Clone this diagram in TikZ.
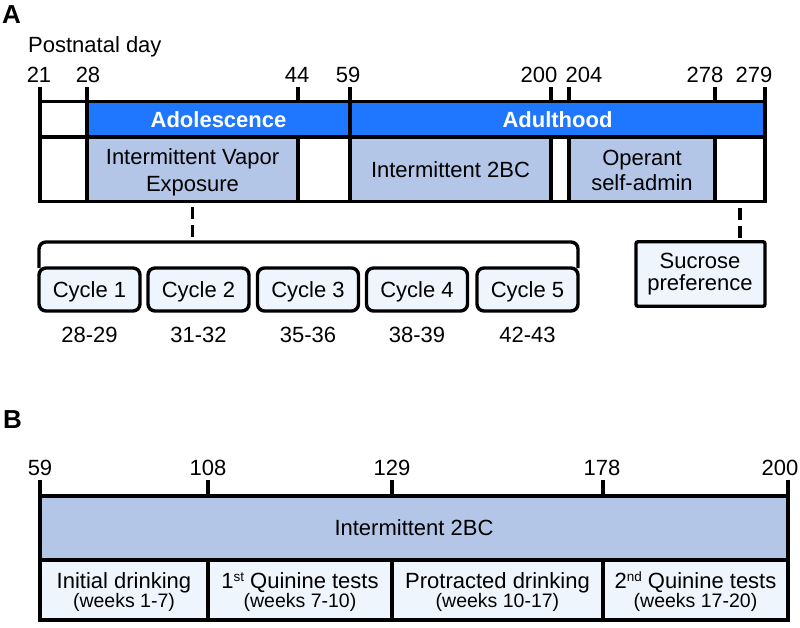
\documentclass[tikz,border=0pt]{standalone}
\usepackage{fontspec}
\setmainfont{Liberation Sans}
\newcommand\mysup[1]{\raisebox{7pt}{\fontsize{13.5}{13.5}\selectfont #1}}
\definecolor{barblue}{HTML}{1F77FF}
\definecolor{steel}{HTML}{B4C6E7}
\definecolor{pale}{HTML}{EEF5FC}
\begin{document}
\begin{tikzpicture}[x=1pt,y=-1pt,
  cell/.style={draw, line width=3.4pt, fill=white, inner sep=0pt, outer sep=0pt,
    font=\fontsize{22}{26}\selectfont, text height=15.8pt, text depth=0pt},
  tickline/.style={line width=3.4pt},
  num/.style={font=\fontsize{22}{26}\selectfont, anchor=base, inner sep=0pt},
  txt/.style={font=\fontsize{22}{26}\selectfont, anchor=base, inner sep=0pt},
  wk/.style={font=\fontsize{19.5}{22}\selectfont, anchor=base, inner sep=0pt},
  hdr/.style={cell, fill=barblue, text=white, font=\bfseries\fontsize{22}{26}\selectfont},
  panel/.style={font=\bfseries\fontsize{26}{30}\selectfont, anchor=base west, inner sep=0pt},
  cyc/.style={draw, line width=3.4pt, rounded corners=7pt, fill=pale, inner sep=0pt, outer sep=0pt,
    minimum width=101pt, minimum height=43pt, font=\fontsize{22}{26}\selectfont,
    text height=15.8pt, text depth=0pt},
  dashline/.style={line width=3.4pt, dash pattern=on 12pt off 6pt},
  bracketline/.style={line width=3.4pt, rounded corners=7pt}
]
\useasboundingbox (0,0) rectangle (800,627);

% ---------- Panel A ----------
\node[panel] (labA) at (2,23) {A};
\node[txt, anchor=base west] (pnd) at (28,52) {Postnatal day};

% top row
\node[cell, minimum width=47pt, minimum height=35.5pt] (tl) at (63.5,119.25) {};
\node[hdr, minimum width=263pt, minimum height=35.5pt] (adol) at (218.5,119.25) {Adolescence};
\node[hdr, minimum width=415pt, minimum height=35.5pt] (adult) at (557.5,119.25) {Adulthood};

% bottom row
\node[cell, minimum width=47pt, minimum height=64.5pt] (bl) at (63.5,169.25) {};
\node[cell, fill=steel, minimum width=211pt, minimum height=64.5pt] (vapor) at (192.5,169.25) {};
\node[cell, minimum width=52pt, minimum height=64.5pt] (w2) at (324,169.25) {};
\node[cell, fill=steel, minimum width=201pt, minimum height=64.5pt] (bc) at (450.5,169.25) {Intermittent 2BC};
\node[cell, minimum width=18pt, minimum height=64.5pt] (w3) at (560,169.25) {};
\node[cell, fill=steel, minimum width=146pt, minimum height=64.5pt] (oper) at (642,169.25) {};
\node[cell, minimum width=50pt, minimum height=64.5pt] (w4) at (740,169.25) {};

\node[txt] (vap1) at (192.5,164) {Intermittent Vapor};
\node[txt] (vap2) at (192.5,191) {Exposure};
\node[txt] (op1) at (642,165) {Operant};
\node[txt] (op2) at (642,190.7) {self-admin};

% ticks
\draw[tickline] (tl.north west) -- ++(0,-14.5);
\draw[tickline] (tl.north east) -- ++(0,-14.5);
\draw[tickline] (vapor.north east |- adol.north) -- ++(0,-14.5);
\draw[tickline] (adult.north west) -- ++(0,-14.5);
\draw[tickline] (bc.north east |- adult.north) -- ++(0,-14.5);
\draw[tickline] (oper.north west |- adult.north) -- ++(0,-14.5);
\draw[tickline] (oper.north east |- adult.north) -- ++(0,-14.5);
\draw[tickline] (adult.north east) -- ++(0,-14.5);

\node[num] (n21) at (39,82) {21};
\node[num] (n28) at (88,82) {28};
\node[num] (n44) at (297,82) {44};
\node[num] (n59) at (348,82) {59};
\node[num] (n200) at (539,82) {200};
\node[num] (n204) at (584,82) {204};
\node[num] (n278) at (705,82) {278};
\node[num] (n279) at (754,82) {279};

% cycles
\coordinate (brtop) at (192.5,242);
\node[cyc] (c1) at (89.5,289.5) {Cycle 1};
\node[cyc] (c2) at (198.5,289.5) {Cycle 2};
\node[cyc] (c3) at (308,289.5) {Cycle 3};
\node[cyc] (c4) at (417,289.5) {Cycle 4};
\node[cyc] (c5) at (527.5,289.5) {Cycle 5};
\draw[bracketline] (c1.north west) |- (brtop) -| (c5.north east);
\draw[dashline, shorten <=5.5pt, shorten >=5pt] (vapor.south) -- (brtop);

\node[num] (d1) at (89.5,342.5) {28-29};
\node[num] (d2) at (198.5,342.5) {31-32};
\node[num] (d3) at (308,342.5) {35-36};
\node[num] (d4) at (417,342.5) {38-39};
\node[num] (d5) at (527.5,342.5) {42-43};

% sucrose
\node[cell, fill=pale, rounded corners=2pt, minimum width=129pt, minimum height=64.5pt] (suc) at (700.5,274) {};
\node[txt] (suc1) at (700,268.3) {Sucrose};
\node[txt] (suc2) at (700,290) {preference};
\draw[dashline, shorten <=6.5pt, shorten >=3.5pt] (w4.south) -- (w4.south |- suc.north);

% ---------- Panel B ----------
\node[panel] (labB) at (3,428) {B};
\node[cell, fill=steel, minimum width=748pt, minimum height=64pt] (b2bc) at (414,528) {Intermittent 2BC};
\node[cell, fill=pale, minimum width=168pt, minimum height=60pt] (p1) at (124,590) {};
\node[cell, fill=pale, minimum width=184pt, minimum height=60pt] (p2) at (300,590) {};
\node[cell, fill=pale, minimum width=211pt, minimum height=60pt] (p3) at (497.5,590) {};
\node[cell, fill=pale, minimum width=185pt, minimum height=60pt] (p4) at (695.5,590) {};

\node[txt] (p1a) at (124,588) {Initial drinking};
\node[wk] (p1b) at (124,607) {(weeks 1-7)};
\node[txt] (p2a) at (300,588) {1\mysup{st} Quinine tests};
\node[wk] (p2b) at (300,607) {(weeks 7-10)};
\node[txt] (p3a) at (497.5,588) {Protracted drinking};
\node[wk] (p3b) at (497.5,607) {(weeks 10-17)};
\node[txt] (p4a) at (695.5,588) {2\mysup{nd} Quinine tests};
\node[wk] (p4b) at (695.5,607) {(weeks 17-20)};

\draw[tickline] (b2bc.north west) -- ++(0,-16);
\draw[tickline] (p1.north east |- b2bc.north) -- ++(0,-16);
\draw[tickline] (p2.north east |- b2bc.north) -- ++(0,-16);
\draw[tickline] (p3.north east |- b2bc.north) -- ++(0,-16);
\draw[tickline] (b2bc.north east) -- ++(0,-16);

\node[num] (m59) at (40,475) {59};
\node[num] (m108) at (208,475) {108};
\node[num] (m129) at (392,475) {129};
\node[num] (m178) at (602,475) {178};
\node[num] (m200) at (780,475) {200};
\end{tikzpicture}
\end{document}
